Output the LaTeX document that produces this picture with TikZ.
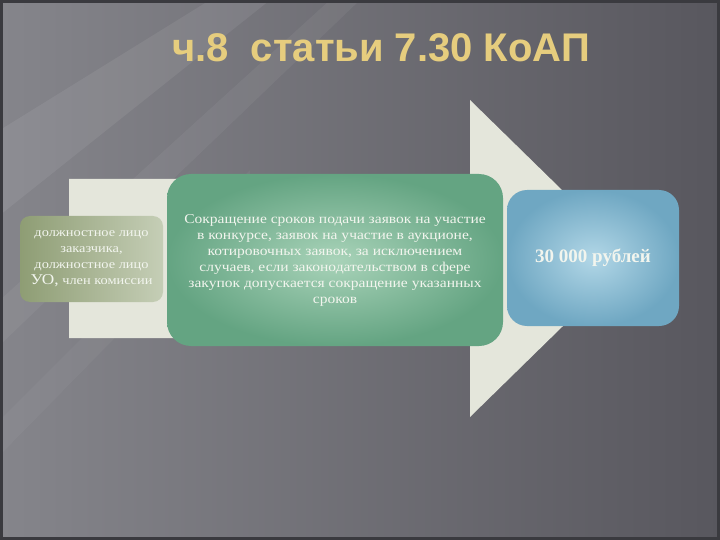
\documentclass[tikz,border=0pt]{standalone}
\usepackage{fontspec}
\setmainfont{Liberation Serif}
\newfontfamily\titlefont{Liberation Sans}
\newfontfamily\boxfont[FakeStretch=1.15]{Liberation Serif}
\usetikzlibrary{shapes,arrows}
\definecolor{bgleft}{HTML}{85858B}
\definecolor{bgright}{HTML}{58575E}
\definecolor{bgframe}{HTML}{3A3A3F}
\definecolor{titlegold}{HTML}{E6CD7E}
\definecolor{arrowfill}{HTML}{E4E6DB}
\definecolor{boxtext}{HTML}{F2F5EE}
\definecolor{wholeft}{HTML}{8E9D74}
\definecolor{whoright}{HTML}{C5CEB6}
\definecolor{offenceout}{HTML}{64A482}
\definecolor{offencein}{HTML}{A9D3B9}
\definecolor{fineout}{HTML}{6FA7C2}
\definecolor{finein}{HTML}{B2D7E7}
\tikzstyle{box} = [align=center, text=boxtext, inner sep=0pt]
\tikzstyle{titletext} = [font=\titlefont\bfseries\fontsize{40}{44}\selectfont]

\begin{document}
\begin{tikzpicture}[x=1pt, y=-1pt]
\useasboundingbox (0,0) rectangle (720,540);
\shade[left color=bgleft, right color=bgright] (0,0) rectangle (720,540);
% light streaks
\fill[white, opacity=0.07] (0,130) -- (210,0) -- (270,0) -- (0,215) -- cycle;
\fill[white, opacity=0.05] (0,300) -- (330,0) -- (360,0) -- (0,345) -- cycle;
\fill[white, opacity=0.04] (0,420) -- (250,170) -- (250,200) -- (0,455) -- cycle;
\draw[bgframe, line width=3pt] (1.5,1.5) rectangle (718.5,538.5);

\node[titletext, text=titlegold] (title) at (381,48) {ч.8\ \ статьи 7.30 КоАП};

% big arrow
\fill[arrowfill] (69,179) -- (470,179) -- (470,100) -- (632,258.5) -- (470,417) -- (470,338) -- (69,338) -- cycle;

\node[box, minimum width=143, minimum height=86, rounded corners=10pt,
  left color=wholeft, right color=whoright,
  font=\boxfont\fontsize{12.5}{16}\selectfont] (who) at (91.5,259)
  {должностное лицо\\заказчика,\\должностное лицо\\{\fontsize{15}{16}\selectfont УО,} член комиссии};

\node[box, minimum width=336, minimum height=172, rounded corners=24pt,
  inner color=offencein, outer color=offenceout,
  font=\boxfont\fontsize{13.5}{16}\selectfont] (offence) at (335,260)
  {Сокращение сроков подачи заявок на участие\\
  в конкурсе, заявок на участие в аукционе,\\
  котировочных заявок, за исключением\\
  случаев, если законодательством в сфере\\
  закупок допускается сокращение указанных\\
  сроков};

\node[box, minimum width=172, minimum height=136, rounded corners=20pt,
  inner color=finein, outer color=fineout,
  font=\fontsize{19}{22}\selectfont\bfseries] (fine) at (593,258)
  {30 000 рублей};
\end{tikzpicture}
\end{document}
